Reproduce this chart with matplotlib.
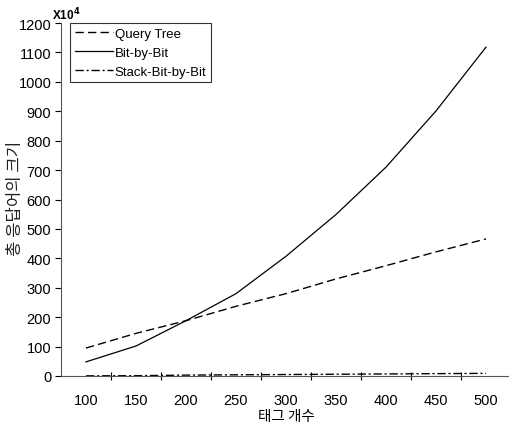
import matplotlib.pyplot as plt
import numpy as np

TAGS = [100, 150, 200, 250, 300, 350, 400, 450, 500]
QUERY_TREE = [95, 145, 188, 237, 280, 330, 375, 422, 466]
BIT_BY_BIT = [48, 102, 188, 280, 407, 549, 710, 901, 1118]
STACK_BIT_BY_BIT = [0.5, 1, 3, 4, 5, 6, 7, 8, 9]

plt.rcParams["font.family"] = ["Liberation Sans", "Noto Sans CJK KR"]
KO_FONT = ["Noto Sans CJK KR", "DejaVu Sans"]


def main():
    fig = plt.figure(figsize=(5.10, 4.27), dpi=100)
    ax = fig.add_axes([61 / 510, 1 - 377 / 427, 450 / 510, 353 / 427])

    ax.plot(TAGS, QUERY_TREE, color="black", linewidth=1.0, linestyle=(0, (6, 3)),
            label="Query Tree")
    ax.plot(TAGS, BIT_BY_BIT, color="black", linewidth=0.9, linestyle="-",
            label="Bit-by-Bit")
    ax.plot(TAGS, STACK_BIT_BY_BIT, color="black", linewidth=1.0,
            linestyle=(0, (6, 2, 1.5, 2)), label="Stack-Bit-by-Bit")

    ax.set_xlim(75, 525)
    ax.set_ylim(0, 1200)
    ax.set_xticks(TAGS)
    ax.set_xticklabels([str(t) for t in TAGS], fontsize=10.5)
    ax.set_xticks(np.arange(125, 500, 50), minor=True)
    ax.tick_params(axis="x", which="major", length=0, pad=12)
    ax.tick_params(axis="x", which="minor", direction="inout", length=6, width=0.8)
    ax.set_yticks(np.arange(0, 1201, 100))
    ax.tick_params(axis="y", labelsize=10.5, direction="out", length=4, width=0.8, pad=3)

    ax.spines["top"].set_visible(False)
    ax.spines["right"].set_visible(False)
    ax.spines["left"].set_color("#555555")
    ax.spines["bottom"].set_color("#555555")

    ax.set_xlabel("태그 개수", family=KO_FONT, fontsize=10.5, labelpad=2)
    fig.text(16 / 510, 1 - 198 / 427, "총 응답어의 크기", family=KO_FONT, fontsize=12,
             rotation=90, ha="center", va="center", color="#222222")

    fig.text(52 / 510, 1 - 20 / 427, r"X10$^{\mathbf{4}}$", fontsize=8.5,
             fontweight="bold", family="Liberation Sans")

    leg = ax.legend(loc="upper left", bbox_to_anchor=(0.02, 1.0), borderaxespad=0,
                    fontsize=9.5, frameon=True, fancybox=False, handlelength=2.9,
                    handletextpad=0.15, labelspacing=0.5, borderpad=0.35)
    leg.get_frame().set_edgecolor("black")
    leg.get_frame().set_linewidth(0.8)

    fig.savefig("out.png", dpi=100)
    plt.close(fig)


if __name__ == "__main__":
    main()
